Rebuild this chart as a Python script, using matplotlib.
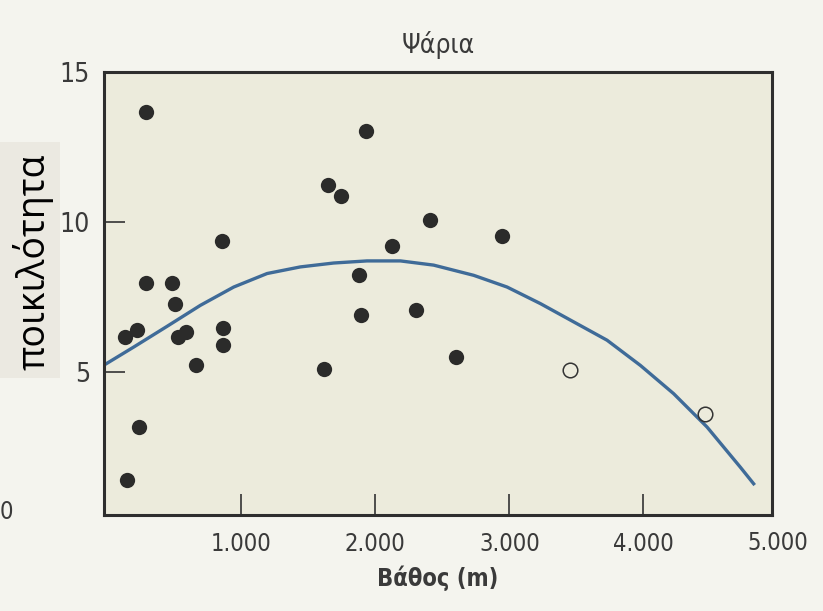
import numpy as np
import matplotlib
matplotlib.use('Agg')
from matplotlib import pyplot as plt
from matplotlib.patches import Rectangle

# depth (m) and diversity of fish species
depth_filled = [291, 149, 239, 134, 221, 288, 482, 507, 525, 587, 659,
                853, 860, 863, 1619, 1649, 1746, 1881, 1896, 1933, 2124,
                2303, 2410, 2599, 2945]
div_filled = [13.67, 1.43, 3.17, 6.16, 6.40, 7.98, 7.96, 7.26, 6.18, 6.34, 5.26,
              9.38, 6.48, 5.90, 5.10, 11.23, 10.87, 8.24, 6.92, 13.03, 9.22,
              7.09, 10.07, 5.51, 9.54]
depth_open = [3455, 4463]
div_open = [5.07, 3.62]

# fitted curve
curve_x = [-7, 196, 445, 694, 943, 1192, 1440, 1689, 1938, 2187, 2435,
           2734, 2983, 3231, 3480, 3729, 3978, 4226, 4475, 4724, 4823]
curve_y = [5.29, 5.84, 6.53, 7.23, 7.84, 8.29, 8.51, 8.64, 8.71, 8.71, 8.57,
           8.23, 7.84, 7.29, 6.68, 6.07, 5.23, 4.29, 3.18, 1.84, 1.29]

x_ticks = [1000, 2000, 3000, 4000]
x_tick_labels = ['1.000', '2.000', '3.000', '4.000']
y_ticks = [5, 10, 15]
y_tick_labels = ['5', '10', '15']

FONT = dict(fontfamily='DejaVu Sans', fontstretch='condensed', color='#3a3a3a')

fig = plt.figure(figsize=(8.23, 6.11), dpi=100, facecolor='#f4f4ee')
ax = fig.add_axes([104 / 823, 96 / 611, 668 / 823, 443 / 611])
ax.set_facecolor('#ecebdc')

ax.plot(curve_x, curve_y, color='#3f6b98', linewidth=2.4, zorder=2,
        solid_joinstyle='round')
ax.plot(depth_filled, div_filled, 'o', color='#2b2b2a', markersize=11,
        markeredgewidth=0, zorder=3)
ax.plot(depth_open, div_open, 'o', markerfacecolor='none',
        markeredgecolor='#333333', markersize=10.5, markeredgewidth=1.1, zorder=3)

ax.set_xlim(-25, 4960)
ax.set_ylim(0.25, 15)

ax.set_xticks(x_ticks)
ax.set_xticklabels(x_tick_labels, fontsize=17, **FONT)
ax.set_yticks(y_ticks)
ax.set_yticklabels(y_tick_labels, fontsize=19, **FONT)
ax.tick_params(axis='both', direction='in', length=15, width=1.2, color='#333333')
ax.tick_params(axis='x', pad=12)
ax.tick_params(axis='y', pad=10)
# 5.000 sits just past the right edge
ax.text(5000, -0.035, '5.000', transform=ax.get_xaxis_transform(),
        ha='center', va='top', fontsize=17, **FONT)

for s in ax.spines.values():
    s.set_linewidth(2.2)
    s.set_color('#2e2e2e')

ax.set_title('Ψάρια', fontsize=19, pad=14, **FONT)
ax.set_xlabel('Βάθος (m)', fontsize=17, fontweight='bold', labelpad=7, **FONT)

# origin label at far left
fig.text(0, 1 - 512 / 611, '0', ha='left', va='center', fontsize=17, **FONT)

# y label on its own grey patch
fig.patches.append(Rectangle((0, 1 - 378 / 611), 60 / 823, 236 / 611,
                             transform=fig.transFigure, facecolor='#ebe9e1',
                             edgecolor='none', zorder=0))
fig.text(33 / 823, 1 - 262 / 611, 'ποικιλότητα', rotation=90, ha='center',
         va='center', fontfamily=['Open Sans', 'DejaVu Sans'], fontsize=27,
         color='black')

fig.savefig('out.png', dpi=100, facecolor=fig.get_facecolor())
